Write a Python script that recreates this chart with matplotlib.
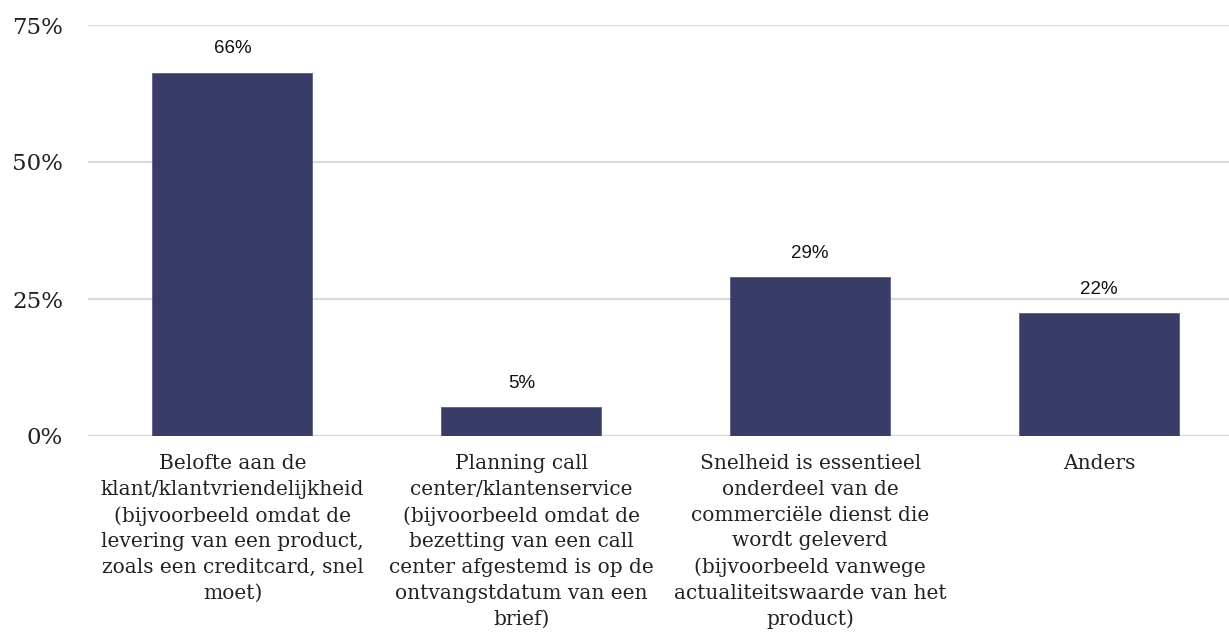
import matplotlib
matplotlib.use("Agg")
import matplotlib.pyplot as plt

categories = [
    "Belofte aan de\nklant/klantvriendelijkheid\n(bijvoorbeeld omdat de\nlevering van een product,\nzoals een creditcard, snel\nmoet)",
    "Planning call\ncenter/klantenservice\n(bijvoorbeeld omdat de\nbezetting van een call\ncenter afgestemd is op de\nontvangstdatum van een\nbrief)",
    "Snelheid is essentieel\nonderdeel van de\ncommerciële dienst die\nwordt geleverd\n(bijvoorbeeld vanwege\nactualiteitswaarde van het\nproduct)",
    "Anders",
]
values = [66.3, 5.3, 29.0, 22.4]
value_labels = ["66%", "5%", "29%", "22%"]
yticks = [0, 25, 50, 75]
ytick_labels = ["0%", "25%", "50%", "75%"]

fig = plt.figure(figsize=(12.29, 6.37), dpi=100)
ax = fig.add_axes([88/1229, 201/637, 1 - 88/1229, (436-25)/637])

x = list(range(len(categories)))
bars = ax.bar(x, values, width=0.554, color="#383C66", edgecolor="#5a5f88", linewidth=0.6, zorder=3)

ax.set_xlim(-0.5, 3.45)
ax.set_ylim(0, 75)
ax.set_yticks(yticks)
ax.set_yticklabels(ytick_labels, family="DejaVu Serif", fontsize=16.5, color="#222222")
ax.set_xticks(x)
ax.set_xticklabels(categories, family="DejaVu Serif", fontsize=14.5, color="#222222", linespacing=1.45, va="top")
ax.tick_params(axis="y", length=0, pad=18)
ax.tick_params(axis="x", length=0, pad=13)
ax.grid(axis="y", color="#d9d9d9", linewidth=1.6, zorder=0)
for s in ax.spines.values():
    s.set_visible(False)
ax.axhline(0, color="#d9d9d9", linewidth=1.6, zorder=2)

for xi, v, lab in zip(x, values, value_labels):
    ax.annotate(lab, (xi, v), xytext=(0, 11), textcoords="offset points",
                ha="center", va="bottom", fontsize=13.5, family="Liberation Sans", color="#111111")

fig.savefig("out.png", dpi=100)
